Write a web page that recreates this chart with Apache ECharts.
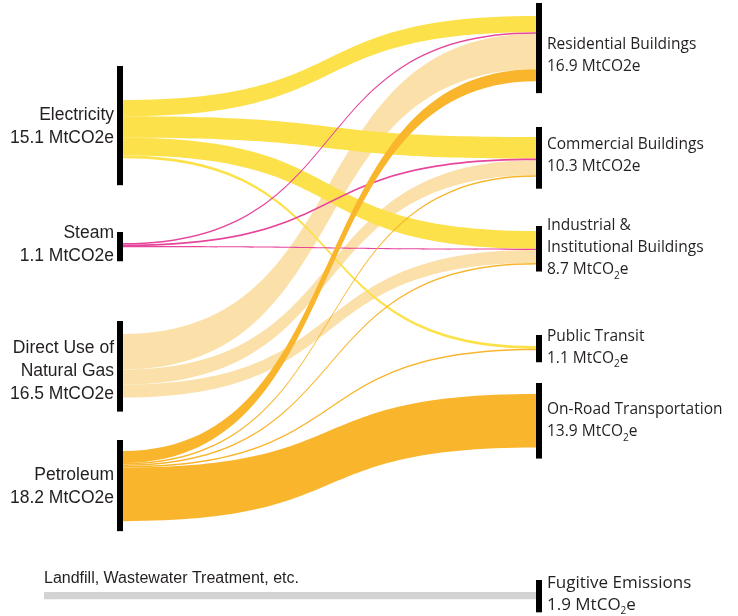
<!DOCTYPE html>
<html lang="en">
<head>
    <meta charset="UTF-8">
    <title>Emissions by Source and Sector</title>
    <style>
        * { box-sizing: border-box; margin: 0; padding: 0; }
        body { background: #fff; }
        #chart { width: 738px; height: 616px; }
    </style>
    <script src="https://cdn.jsdelivr.net/npm/echarts@6/dist/echarts.min.js"></script>
</head>
<body>
    <div id="chart"></div>

    <script>
        // left column: energy sources
        const sources = ['Electricity', 'Steam', 'Natural Gas', 'Petroleum', 'Landfill'];
        const sourceLabels = ['Electricity', 'Steam', 'Direct Use of\nNatural Gas', 'Petroleum', 'Landfill, Wastewater Treatment, etc.'];
        const sourceTotals = [15.1, 1.1, 16.5, 18.2, 1.9];

        // right column: sectors
        const sectors = ['Residential', 'Commercial', 'Industrial', 'Public Transit', 'On-Road', 'Fugitive'];
        const sectorLabels = ['Residential Buildings', 'Commercial Buildings', 'Industrial &\nInstitutional Buildings',
            'Public Transit', 'On-Road Transportation', 'Fugitive Emissions'];
        const sectorTotals = [16.9, 10.3, 8.7, 1.1, 13.9, 1.9];
        const subscriptCO2 = [false, false, true, true, true, true];

        // flows in MtCO2e, one value per sector (same order as sectors)
        const electricityFlows = [4.2, 5.6, 4.6, 0.7, 0, 0];
        const steamFlows = [0.4, 0.4, 0.3, 0, 0, 0];
        const gasFlows = [9.2, 3.9, 3.4, 0, 0, 0];
        const petroleumFlows = [3.1, 0.4, 0.4, 0.4, 13.9, 0];
        const landfillFlows = [0, 0, 0, 0, 0, 1.9];

        // --- styling / placement (kept apart from the data) ---
        const W = 738, H = 616, NODE_W = 6;
        const sourceColors = ['#fde14a', '#e6469c', '#fbe0aa', '#f9b52c', '#d3d3d3'];
        const sourceX = [117, 117, 117, 117, 44];
        const sourceTop = [100, 243, 334, 451, 592];
        const sectorX = 536;
        const sectorTop = [16, 137, 231, 346, 394, 592];
        // how far the black bars reach past the flows [above, below]
        const sourcePad = [[34, 27], [11, 14], [13, 14], [11, 10], null];
        const sectorPad = [[13, 12], [10, 12], [5, 7], [11, 12], [11, 11], [12, 13]];
        const sourceShift = [-2, 0, 5, 1, 0];
        const sectorShift = [7, -1, 0, -1, 0, -2];

        const flowsBySource = [electricityFlows, steamFlows, gasFlows, petroleumFlows, landfillFlows];

        const nodes = [];
        sources.forEach((s, i) => {
            const isLandfill = i === 4;
            nodes.push({
                name: s,
                value: sourceTotals[i],
                localX: sourceX[i] / W,
                localY: sourceTop[i] / H,
                itemStyle: { color: isLandfill ? sourceColors[4] : '#000' },
                label: isLandfill ? {
                    position: [0, -13],
                    align: 'left',
                    verticalAlign: 'middle',
                    fontFamily: 'Liberation Sans',
                    fontSize: 16,
                    formatter: sourceLabels[i]
                } : {
                    position: 'left',
                    distance: 3,
                    align: 'right',
                    offset: [0, sourceShift[i]],
                    fontFamily: 'Liberation Sans',
                    fontSize: 17.5,
                    lineHeight: 23,
                    formatter: sourceLabels[i] + '\n' + sourceTotals[i] + ' MtCO2e'
                }
            });
        });
        sectors.forEach((s, i) => {
            const lines = sectorLabels[i].split('\n').map(t => '{n|' + t + '}');
            const unit = subscriptCO2[i]
                ? '{n|' + sectorTotals[i] + ' MtCO}{s|2}{n|e}'
                : '{n|' + sectorTotals[i] + ' MtCO2e}';
            nodes.push({
                name: s,
                value: sectorTotals[i],
                localX: sectorX / W,
                localY: sectorTop[i] / H,
                itemStyle: { color: '#000' },
                label: {
                    position: 'right',
                    distance: 5,
                    align: 'left',
                    offset: [0, sectorShift[i]],
                    formatter: lines.concat([unit]).join('\n'),
                    rich: {
                        n: { fontFamily: 'Open Sans', fontSize: i === 5 ? 17 : 15.5, lineHeight: 22, color: '#231f20' },
                        s: { fontFamily: 'Open Sans', fontSize: 10, lineHeight: 12, verticalAlign: 'bottom', color: '#231f20' }
                    }
                }
            });
        });

        // draw order: gas underneath, petroleum on top
        const links = [];
        [2, 0, 1, 3, 4].forEach(si => {
            flowsBySource[si].forEach((v, ti) => {
                if (!v) return;
                links.push({
                    source: sources[si],
                    target: sectors[ti],
                    value: v,
                    lineStyle: { color: sourceColors[si] }
                });
            });
        });

        const chart = echarts.init(document.getElementById('chart'));
        chart.setOption({
            animation: false,
            series: [{
                type: 'sankey',
                left: 0, top: 0, width: W, height: H,
                nodeWidth: NODE_W,
                nodeGap: 82.5,
                layoutIterations: 0,
                draggable: false,
                emphasis: { disabled: true },
                label: { color: '#231f20' },
                lineStyle: { opacity: 1, curveness: 0.58 },
                data: nodes,
                links: links
            }]
        });

        // stretch the black node bars past their flows, using the laid-out node heights
        const nodeData = chart.getModel().getSeriesByIndex(0).getData();
        const pads = sourcePad.concat(sectorPad);
        const xs = sourceX.concat(sectors.map(() => sectorX));
        const tops = sourceTop.concat(sectorTop);
        const bars = [];
        nodeData.each(idx => {
            const pad = pads[idx];
            if (!pad) return;
            const dy = nodeData.getItemLayout(idx).dy;
            bars.push({
                type: 'rect',
                z: 100,
                silent: true,
                shape: { x: xs[idx], y: tops[idx] - pad[0], width: NODE_W, height: dy + pad[0] + pad[1] },
                style: { fill: '#000' }
            });
        });
        chart.setOption({ graphic: bars });
    </script>
</body>
</html>
